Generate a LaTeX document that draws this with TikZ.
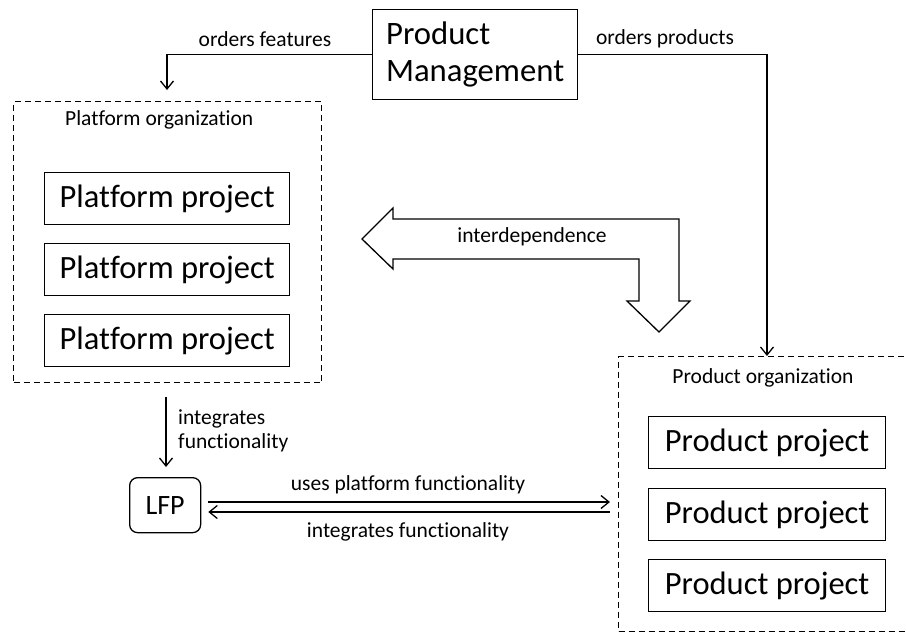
\documentclass[tikz,border=0pt]{standalone}
\usepackage{fontspec}
\setmainfont{Carlito}[Ligatures=NoCommon]
\usetikzlibrary{arrows.meta,calc}
\begin{document}
\begin{tikzpicture}[x=1pt,y=-1pt,
  lw/.style={line width=1.3pt},
  box/.style={draw,lw,inner sep=0pt,anchor=north west},
  big/.style={font=\fontsize{32.5}{38}\selectfont},
  small/.style={font=\fontsize{21.5}{24}\selectfont},
  org/.style={draw,lw,dash pattern=on 6pt off 4pt,inner sep=0pt,anchor=north west},
  arr/.style={lw,-{Straight Barb[length=8pt,width=13pt,line width=1.3pt]}}
]
\useasboundingbox (0,0) rectangle (906,632);
\fill[white] (0,0) rectangle (906,632);
\begin{scope}
\clip (0,0) rectangle (906,632);
% Product management
\node[box,minimum width=205pt,minimum height=90pt,align=left,font=\fontsize{32.7}{37}\selectfont] (pm) at (372,9) {Product\\Management};
% Platform organization
\node[org,minimum width=308pt,minimum height=281pt] (platorg) at (13,101) {};
\node[small,anchor=west,inner sep=0pt] (platlbl) at (65,120) {Platform organization};
\node[box,big,minimum width=245pt,minimum height=52pt] (pp1) at (44,172) {Platform project};
\node[box,big,minimum width=245pt,minimum height=52pt] (pp2) at (44,243) {Platform project};
\node[box,big,minimum width=245pt,minimum height=52pt] (pp3) at (44,314) {Platform project};
% Product organization
\node[org,minimum width=320pt,minimum height=275pt] (prodorg) at (618,356) {};
\node[small] (prodlbl) at (763,378) {Product organization};
\node[box,big,minimum width=237pt,minimum height=52pt] (pr1) at (648,416) {Product project};
\node[box,big,minimum width=237pt,minimum height=52pt] (pr2) at (648,488) {Product project};
\node[box,big,minimum width=237pt,minimum height=52pt] (pr3) at (648,559) {Product project};
% LFP
\node[box,rounded corners=8pt,minimum width=71pt,minimum height=55pt,font=\fontsize{28}{32}\selectfont] (lfp) at (129,477) {LFP};
% coordinates
\coordinate (ofend) at (167,90);
\coordinate (opend) at (767,356);
\coordinate (ifstart) at (166,397);
\coordinate (ifend) at (166,467);
% orders features / products
\draw[arr] (pm.west) -| (ofend);
\node[small] (oflbl) at (265,39) {orders features};
\draw[arr] (pm.east) -| (opend);
\node[small] (oplbl) at (665,39) {orders products};
% integrates functionality (vertical)
\draw[arr] (ifstart) -- (ifend);
\node[small,anchor=north west,align=left,inner sep=0pt] (iflbl) at (178,410) {integrates\\functionality};
% LFP arrows
\coordinate (ua) at (610,502);
\coordinate (ub) at (610,512);
\draw[arr] (lfp.east |- ua) ++(7,0) -- (ua);
\draw[arr] (ub) -- ($(lfp.east |- ub)+(7,0)$);
\node[small] (ulbl) at (408,485) {uses platform functionality};
\node[small] (illbl) at (408,532) {integrates functionality};
% interdependence block arrow
\draw[lw,fill=white] (362,239) -- (393,208) -- (393,219) -- (679,219) -- (679,301) -- (690,301)
  -- (659,332) -- (627,301) -- (639,301) -- (639,259) -- (393,259) -- (393,269) -- cycle;
\node[small] (idlbl) at (532,237) {interdependence};
\end{scope}
\end{tikzpicture}
\end{document}
